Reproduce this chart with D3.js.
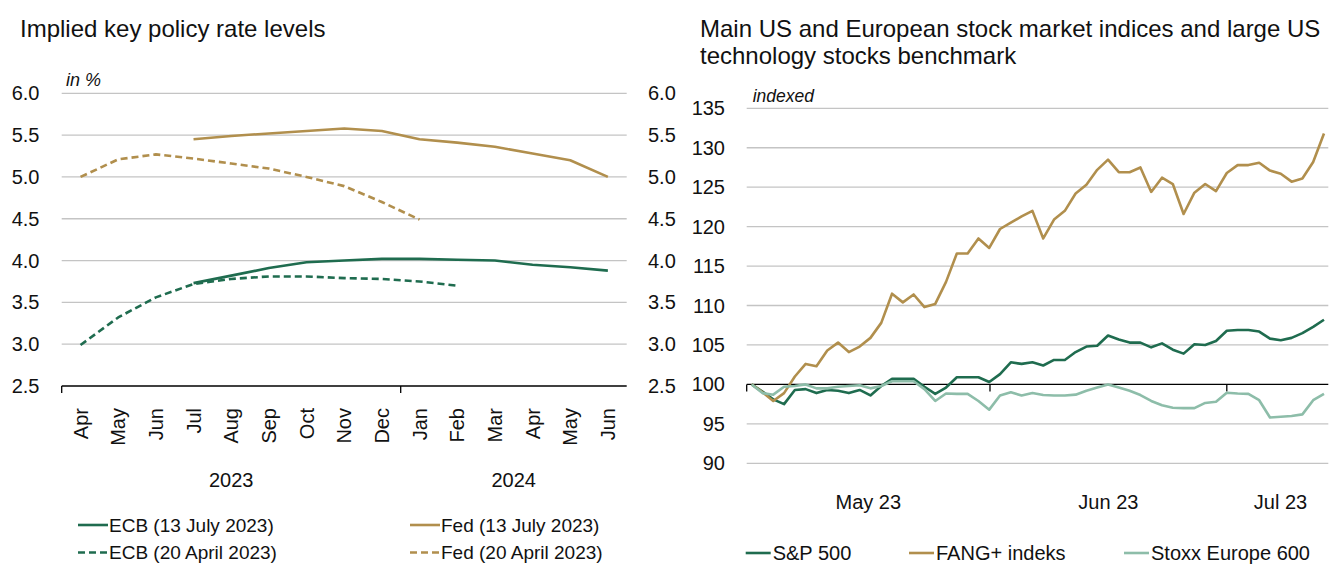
<!DOCTYPE html>
<html><head><meta charset="utf-8">
<script src="https://cdn.jsdelivr.net/npm/d3@7"></script>
<style>
html,body{margin:0;padding:0;background:#fff;}
svg{display:block;font-family:"Liberation Sans",Arial,sans-serif;}
</style></head>
<body><svg id="c" width="1337" height="565"></svg>
<script>
// ---------- Left chart data ----------
const months = ["Apr","May","Jun","Jul","Aug","Sep","Oct","Nov","Dec","Jan","Feb","Mar","Apr","May","Jun"];
const years = [{label:"2023", from:0, to:9},{label:"2024", from:9, to:15}];
const rateTicks = [2.5,3.0,3.5,4.0,4.5,5.0,5.5,6.0];
const ecbJul = [null,null,null,3.73,3.82,3.91,3.98,4.00,4.02,4.02,4.01,4.00,3.95,3.92,3.88];
const fedJul = [null,null,null,5.45,5.49,5.52,5.55,5.58,5.55,5.45,5.41,5.36,5.28,5.20,5.00];
const ecbApr = [2.99,3.32,3.56,3.72,3.78,3.81,3.81,3.79,3.78,3.75,3.70,null,null,null,null];
const fedApr = [5.00,5.21,5.27,5.22,5.16,5.10,5.00,4.89,4.70,4.49,null,null,null,null,null];
const leftSeries = [
  {name:"ECB (13 July 2023)", values:ecbJul, color:"#1f6c4f", dash:null},
  {name:"Fed (13 July 2023)", values:fedJul, color:"#b18f4d", dash:null},
  {name:"ECB (20 April 2023)", values:ecbApr, color:"#1f6c4f", dash:"7,4"},
  {name:"Fed (20 April 2023)", values:fedApr, color:"#b18f4d", dash:"7,4"}
];

// ---------- Right chart data ----------
const sp500 = [100.0,99.1,98.1,97.5,99.3,99.4,98.9,99.3,99.2,98.9,99.3,98.6,99.8,100.7,100.7,100.7,99.7,98.8,99.6,100.9,100.9,100.9,100.3,101.3,102.8,102.6,102.8,102.4,103.1,103.1,104.1,104.8,104.9,106.2,105.7,105.3,105.3,104.7,105.2,104.4,103.9,105.1,105.0,105.5,106.8,106.9,106.9,106.7,105.8,105.6,105.9,106.5,107.3,108.2];
const fang = [100.0,99.0,97.9,98.9,101.0,102.6,102.3,104.3,105.3,104.1,104.8,105.9,107.8,111.5,110.4,111.4,109.8,110.2,113.0,116.6,116.6,118.5,117.3,119.7,120.5,121.3,122.0,118.5,120.9,122.0,124.2,125.3,127.2,128.5,126.9,126.9,127.5,124.4,126.2,125.4,121.6,124.3,125.4,124.5,126.8,127.8,127.8,128.1,127.1,126.7,125.7,126.1,128.2,131.8];
const stoxx = [100.0,98.9,98.7,99.7,99.8,100.0,99.5,99.5,99.7,99.8,99.9,99.5,99.8,100.4,100.4,100.4,99.4,97.9,98.85,98.8,98.8,97.9,96.8,98.6,99.0,98.6,98.9,98.65,98.6,98.6,98.7,99.2,99.6,100.0,99.6,99.2,98.65,97.9,97.35,97.05,97.0,97.0,97.65,97.8,98.95,98.85,98.8,98.0,95.8,95.9,96.0,96.2,98.0,98.8];
const idxTicks = [90,95,100,105,110,115,120,125,130,135];
const monthLabelsR = ["May 23","Jun 23","Jul 23"];
const monthStartIdx = [-0.46,22.07,44.0];   // trading-day index where each month starts
const lastIdx = 53.4;
const rightSeries = [
  {name:"S&P 500", values:sp500, color:"#1f6c4f"},
  {name:"FANG+ indeks", values:fang, color:"#b18f4d"},
  {name:"Stoxx Europe 600", values:stoxx, color:"#8dbda9"}
];

const svg = d3.select("#c");
svg.append("rect").attr("width",1337).attr("height",565).attr("fill","#fff");
const GRID = "#c4c4c4", TXT = "#111";

// ================= LEFT CHART =================
const xL = d3.scaleBand().domain(d3.range(months.length)).range([61.7, 626.7]).padding(0);
const yL = d3.scaleLinear().domain([2.5, 6.0]).range([386, 93.3]);
const cx = i => xL(i) + xL.bandwidth()/2;

svg.append("text").attr("x",20).attr("y",37).attr("font-size",24).attr("fill",TXT)
  .text("Implied key policy rate levels");
svg.append("text").attr("x",66).attr("y",86).attr("font-size",18).attr("font-style","italic").attr("fill",TXT)
  .text("in %");

const gL = svg.append("g");
gL.selectAll("line.grid").data(rateTicks.filter(t=>t>2.5)).join("line")
  .attr("x1",61.7).attr("x2",626.7).attr("y1",d=>yL(d)).attr("y2",d=>yL(d))
  .attr("stroke",GRID).attr("stroke-width",1.3);
gL.append("line").attr("x1",61.7).attr("x2",626.7).attr("y1",yL(2.5)).attr("y2",yL(2.5))
  .attr("stroke","#000").attr("stroke-width",1.3);
[0, 9].forEach(i => {
  gL.append("line").attr("x1",xL(i)).attr("x2",xL(i)).attr("y1",yL(2.5)).attr("y2",yL(2.5)+7)
    .attr("stroke","#000").attr("stroke-width",1.3);
});
gL.selectAll("text.yl").data(rateTicks).join("text")
  .attr("x",39.5).attr("y",d=>yL(d)).attr("dy","0.35em").attr("text-anchor","end")
  .attr("font-size",20).attr("fill",TXT).text(d=>d.toFixed(1));
gL.selectAll("text.yr").data(rateTicks).join("text")
  .attr("x",648).attr("y",d=>yL(d)).attr("dy","0.35em").attr("text-anchor","start")
  .attr("font-size",20).attr("fill",TXT).text(d=>d.toFixed(1));
gL.selectAll("text.mon").data(months).join("text")
  .attr("transform",(d,i)=>`translate(${cx(i)},408) rotate(-90)`)
  .attr("dy","0.35em").attr("text-anchor","end").attr("font-size",20).attr("fill",TXT).text(d=>d);
gL.selectAll("text.yr2").data(years).join("text")
  .attr("x",d=>(xL(d.from)+ (d.to>=months.length? 626.7 : xL(d.to)))/2).attr("y",487)
  .attr("text-anchor","middle").attr("font-size",20).attr("fill",TXT).text(d=>d.label);

const lineL = d3.line().defined(d=>d!=null).x((d,i)=>cx(i)).y(d=>yL(d));
leftSeries.forEach(s => {
  gL.append("path").attr("d", lineL(s.values)).attr("fill","none")
    .attr("stroke",s.color).attr("stroke-width",2.6).attr("stroke-dasharray",s.dash)
    .attr("stroke-linejoin","round");
});
// legend left
const legL = [
  {s:leftSeries[0], x:78, y:525},{s:leftSeries[1], x:410, y:525},
  {s:leftSeries[2], x:78, y:552.5},{s:leftSeries[3], x:410, y:552.5}
];
legL.forEach(l => {
  svg.append("line").attr("x1",l.x).attr("x2",l.x+30).attr("y1",l.y).attr("y2",l.y)
    .attr("stroke",l.s.color).attr("stroke-width",2.6).attr("stroke-dasharray",l.s.dash);
  svg.append("text").attr("x",l.x+31).attr("y",l.y).attr("dy","0.35em")
    .attr("font-size",19).attr("fill",TXT).text(l.s.name);
});

// ================= RIGHT CHART =================
const xR = d3.scaleLinear().domain([monthStartIdx[0], lastIdx]).range([746.7, 1328.3]);
const yR = d3.scaleLinear().domain([90, 135]).range([463.3, 108.3]);

svg.append("text").attr("x",700).attr("y",37).attr("font-size",24).attr("fill",TXT)
  .text("Main US and European stock market indices and large US");
svg.append("text").attr("x",700).attr("y",64).attr("font-size",24).attr("fill",TXT)
  .text("technology stocks benchmark");
svg.append("text").attr("x",752.7).attr("y",102).attr("font-size",17.5).attr("font-style","italic").attr("fill",TXT)
  .text("indexed");

const gR = svg.append("g");
gR.selectAll("line.grid").data(idxTicks.filter(t=>t!==100)).join("line")
  .attr("x1",746.7).attr("x2",1328.3).attr("y1",d=>yR(d)).attr("y2",d=>yR(d))
  .attr("stroke",GRID).attr("stroke-width",1.3);
gR.append("line").attr("x1",746.7).attr("x2",1328.3).attr("y1",yR(100)).attr("y2",yR(100))
  .attr("stroke","#000").attr("stroke-width",1.3);
gR.selectAll("line.tick").data(monthStartIdx).join("line")
  .attr("x1",d=>xR(d)).attr("x2",d=>xR(d)).attr("y1",yR(100)).attr("y2",yR(100)+7)
  .attr("stroke","#000").attr("stroke-width",1.3);
gR.selectAll("text.yl").data(idxTicks).join("text")
  .attr("x",725).attr("y",d=>yR(d)).attr("dy","0.35em").attr("text-anchor","end")
  .attr("font-size",20).attr("fill",TXT).text(d=>d);
gR.selectAll("text.mon").data(monthLabelsR).join("text")
  .attr("x",(d,i)=>(xR(monthStartIdx[i]) + xR(i+1<monthStartIdx.length?monthStartIdx[i+1]:lastIdx))/2 + (i===2?3:0))
  .attr("y",509).attr("text-anchor","middle").attr("font-size",20).attr("fill",TXT).text(d=>d);

const lineR = d3.line().x((d,i)=>xR(i)).y(d=>yR(d));
rightSeries.forEach(s => {
  gR.append("path").attr("d", lineR(s.values)).attr("fill","none")
    .attr("stroke",s.color).attr("stroke-width",2.6).attr("stroke-linejoin","round");
});
const legR = [{s:rightSeries[0],x:745.7},{s:rightSeries[1],x:909},{s:rightSeries[2],x:1124}];
legR.forEach(l => {
  svg.append("line").attr("x1",l.x).attr("x2",l.x+25).attr("y1",553).attr("y2",553)
    .attr("stroke",l.s.color).attr("stroke-width",2.6);
  svg.append("text").attr("x",l.x+27).attr("y",553).attr("dy","0.35em")
    .attr("font-size",20).attr("fill",TXT).text(l.s.name);
});
</script></body></html>
